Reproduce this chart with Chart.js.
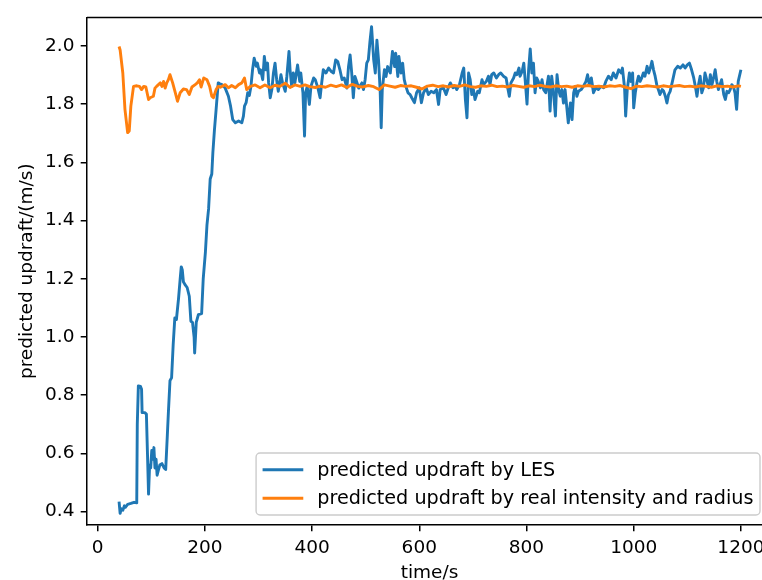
<!DOCTYPE html>
<html>
<head>
<meta charset="utf-8">
<script src="https://cdn.jsdelivr.net/npm/chart.js@4.4.1/dist/chart.umd.min.js"></script>
<style>
  html, body { margin: 0; padding: 0; background: #fff; overflow: hidden; }
  #frame { width: 762px; height: 580px; overflow: hidden; position: relative; }
  #plot { position: absolute; left: 0; top: 0; }
</style>
</head>
<body>
<div id="frame"><canvas id="plot" width="780" height="600"></canvas></div>
<script>
// updraft predicted from the LES run (time in s, value in m/s)
const lesTime = [
  40, 42, 44, 47, 50, 52, 56, 62, 68, 73, 74, 76, 80, 82, 83, 88, 91, 93, 95, 97,
  99, 101, 103, 105, 107, 109, 111, 113, 116, 120, 124, 127, 130, 132, 135, 138, 141, 144, 147, 151,
  154, 156, 158, 160, 163, 167, 171, 174, 177, 180, 181, 184, 188, 194, 197, 201, 204, 207, 210, 213,
  215, 218, 221, 225, 228, 232, 238, 244, 248, 252, 257, 263, 269, 272, 274, 277, 280, 283, 286, 289,
  292, 296, 298, 302, 304, 308, 311, 314, 317, 319, 322, 325, 328, 331, 334, 337, 342, 345, 350, 353,
  357, 359, 362, 365, 368, 373, 377, 379, 383, 386, 388, 391, 395, 398, 403, 406, 411, 415, 418, 421,
  426, 431, 436, 440, 444, 448, 452, 456, 460, 465, 468, 471, 474, 477, 480, 484, 487, 493, 496, 499,
  502, 505, 508, 511, 515, 518, 521, 524, 527, 529, 531, 535, 538, 541, 546, 550, 554, 556, 560, 562,
  566, 569, 572, 575, 579, 583, 586, 591, 595, 600, 604, 608, 613, 617, 622, 627, 632, 636, 639, 645,
  650, 655, 658, 663, 667, 670, 675, 680, 683, 686, 689, 692, 695, 698, 701, 704, 709, 712, 717, 720,
  725, 729, 732, 735, 739, 744, 748, 752, 757, 762, 765, 768, 771, 776, 779, 782, 786, 788, 792, 795,
  798, 801, 804, 807, 810, 813, 816, 819, 822, 826, 829, 832, 836, 841, 844, 847, 850, 854, 857, 860,
  863, 866, 869, 872, 875, 878, 882, 885, 888, 891, 894, 897, 902, 906, 911, 914, 917, 921, 925, 929,
  934, 939, 944, 948, 953, 958, 962, 967, 972, 977, 979, 983, 985, 988, 992, 995, 998, 1000, 1003, 1006,
  1009, 1012, 1015, 1018, 1021, 1025, 1028, 1031, 1034, 1037, 1040, 1043, 1046, 1049, 1053, 1056, 1059, 1062, 1065, 1068,
  1073, 1077, 1082, 1087, 1092, 1096, 1100, 1104, 1108, 1112, 1115, 1118, 1121, 1124, 1127, 1130, 1133, 1137, 1140, 1143,
  1146, 1149, 1152, 1155, 1158, 1161, 1164, 1168, 1171, 1174, 1177, 1180, 1183, 1186, 1189, 1192, 1195, 1200
];
const lesUpdraft = [
  0.434, 0.394, 0.410, 0.405, 0.420, 0.415, 0.425, 0.428, 0.432, 0.430, 0.700, 0.832, 0.830, 0.820, 0.740, 0.740, 0.735, 0.600, 0.460, 0.560,
  0.550, 0.610, 0.580, 0.620, 0.550, 0.580, 0.525, 0.540, 0.560, 0.565, 0.550, 0.545, 0.660, 0.740, 0.850, 0.860, 0.975, 1.065, 1.060, 1.133,
  1.200, 1.241, 1.230, 1.190, 1.180, 1.170, 1.140, 1.054, 1.050, 1.000, 0.945, 1.050, 1.077, 1.080, 1.200, 1.290, 1.385, 1.440, 1.543, 1.560,
  1.634, 1.713, 1.780, 1.873, 1.870, 1.867, 1.855, 1.827, 1.793, 1.747, 1.736, 1.742, 1.736, 1.759, 1.793, 1.805, 1.839, 1.830, 1.861, 1.918,
  1.958, 1.930, 1.941, 1.907, 1.918, 1.884, 1.964, 1.918, 1.941, 1.873, 1.822, 1.850, 1.907, 1.941, 1.884, 1.844, 1.901, 1.873, 1.844, 1.895,
  1.981, 1.918, 1.861, 1.907, 1.873, 1.935, 1.878, 1.907, 1.839, 1.690, 1.839, 1.861, 1.799, 1.861, 1.890, 1.884, 1.855, 1.822, 1.873, 1.918,
  1.907, 1.924, 1.912, 1.907, 1.952, 1.946, 1.918, 1.884, 1.890, 1.855, 1.929, 1.969, 1.907, 1.822, 1.895, 1.873, 1.855, 1.873, 1.850, 1.884,
  1.941, 1.952, 2.015, 2.066, 1.952, 1.907, 2.020, 1.952, 1.850, 1.719, 1.850, 1.918, 1.895, 1.929, 1.907, 1.981, 1.929, 1.975, 1.895, 1.964,
  1.907, 1.941, 1.884, 1.861, 1.839, 1.833, 1.822, 1.805, 1.839, 1.856, 1.805, 1.839, 1.856, 1.833, 1.844, 1.839, 1.850, 1.799, 1.850, 1.856,
  1.833, 1.861, 1.873, 1.856, 1.861, 1.850, 1.867, 1.907, 1.924, 1.816, 1.753, 1.907, 1.884, 1.833, 1.850, 1.816, 1.844, 1.839, 1.884, 1.867,
  1.878, 1.896, 1.867, 1.901, 1.907, 1.890, 1.901, 1.907, 1.896, 1.890, 1.856, 1.827, 1.873, 1.890, 1.907, 1.901, 1.924, 1.896, 1.913, 1.941,
  1.873, 1.800, 1.918, 1.990, 1.907, 1.941, 1.839, 1.890, 1.878, 1.856, 1.884, 1.850, 1.839, 1.896, 1.776, 1.896, 1.850, 1.759, 1.901, 1.850,
  1.827, 1.850, 1.804, 1.850, 1.793, 1.736, 1.804, 1.747, 1.839, 1.861, 1.827, 1.844, 1.850, 1.861, 1.878, 1.901, 1.867, 1.890, 1.839, 1.856,
  1.850, 1.861, 1.856, 1.878, 1.896, 1.884, 1.907, 1.890, 1.918, 1.907, 1.924, 1.856, 1.759, 1.850, 1.907, 1.878, 1.907, 1.787, 1.839, 1.873,
  1.896, 1.878, 1.890, 1.907, 1.896, 1.930, 1.907, 1.924, 1.947, 1.918, 1.896, 1.867, 1.850, 1.833, 1.850, 1.844, 1.827, 1.804, 1.833, 1.844,
  1.884, 1.918, 1.930, 1.924, 1.935, 1.924, 1.935, 1.941, 1.918, 1.890, 1.861, 1.827, 1.867, 1.896, 1.839, 1.856, 1.907, 1.878, 1.856, 1.901,
  1.867, 1.890, 1.918, 1.878, 1.850, 1.867, 1.884, 1.833, 1.816, 1.844, 1.839, 1.850, 1.867, 1.861, 1.839, 1.782, 1.878, 1.918
];

// updraft predicted from the real intensity and radius
const realTime = [
  40, 42, 47, 51, 56, 59, 62, 67, 73, 78, 82, 86, 90, 95, 98, 104, 107, 110, 117, 120,
  123, 126, 129, 132, 135, 140, 145, 149, 154, 160, 166, 171, 176, 182, 186, 190, 193, 198, 204, 209,
  213, 216, 221, 225, 229, 238, 244, 250, 257, 263, 269, 274, 278, 285, 294, 303, 312, 322, 331, 340,
  350, 359, 368, 378, 387, 396, 406, 415, 425, 435, 445, 455, 465, 475, 485, 495, 505, 515, 525, 535,
  545, 555, 565, 575, 585, 595, 605, 615, 625, 635, 645, 655, 665, 675, 685, 695, 705, 715, 725, 735,
  745, 755, 765, 775, 785, 795, 805, 815, 825, 835, 845, 855, 865, 875, 885, 895, 905, 915, 925, 935,
  945, 955, 965, 975, 985, 995, 1005, 1015, 1025, 1035, 1045, 1055, 1065, 1075, 1085, 1095, 1105, 1115, 1125, 1135,
  1145, 1155, 1165, 1175, 1185, 1195, 1200
];
const realUpdraft = [
  1.998, 1.986, 1.907, 1.782, 1.702, 1.708, 1.793, 1.861, 1.863, 1.861, 1.850, 1.861, 1.859, 1.816, 1.822, 1.827, 1.855, 1.861, 1.873, 1.861,
  1.878, 1.855, 1.873, 1.884, 1.901, 1.873, 1.839, 1.810, 1.839, 1.852, 1.850, 1.833, 1.859, 1.867, 1.873, 1.884, 1.859, 1.890, 1.884, 1.861,
  1.827, 1.822, 1.850, 1.861, 1.858, 1.867, 1.856, 1.864, 1.856, 1.867, 1.873, 1.890, 1.850, 1.861, 1.866, 1.856, 1.866, 1.856, 1.865, 1.861,
  1.872, 1.857, 1.866, 1.861, 1.866, 1.860, 1.857, 1.862, 1.858, 1.865, 1.860, 1.866, 1.857, 1.868, 1.861, 1.859, 1.864, 1.860, 1.850, 1.866,
  1.862, 1.858, 1.864, 1.861, 1.863, 1.858, 1.852, 1.862, 1.865, 1.860, 1.863, 1.859, 1.864, 1.861, 1.866, 1.860, 1.858, 1.863, 1.861, 1.865,
  1.860, 1.862, 1.859, 1.864, 1.861, 1.858, 1.863, 1.860, 1.865, 1.861, 1.859, 1.863, 1.860, 1.862, 1.858, 1.863, 1.861, 1.864, 1.860, 1.862,
  1.859, 1.863, 1.861, 1.864, 1.858, 1.853, 1.862, 1.860, 1.863, 1.861, 1.859, 1.863, 1.860, 1.862, 1.864, 1.860, 1.862, 1.859, 1.863, 1.861,
  1.858, 1.863, 1.860, 1.862, 1.859, 1.863, 1.861
];

const seriesLabels = ['predicted updraft by LES', 'predicted updraft by real intensity and radius'];
const seriesColors = ['#1f77b4', '#ff7f0e'];
const xTickStep = 200;
const yTickStep = 0.2;

const FONT = '"DejaVu Sans", sans-serif';
const FS = 18.5;
const LEGEND_FS = 19.2;

// top/right spines (Chart.js only draws the axis borders)
const spines = {
  id: 'spines',
  afterDraw(chart) {
    const { ctx, chartArea: a } = chart;
    ctx.save();
    ctx.strokeStyle = '#000';
    ctx.lineWidth = 1.5;
    ctx.beginPath();
    ctx.moveTo(a.left, a.top);
    ctx.lineTo(a.right, a.top);
    ctx.lineTo(a.right, a.bottom);
    ctx.stroke();
    ctx.restore();
  }
};

// boxed legend in the lower right corner of the plot area
const cornerLegend = {
  id: 'cornerLegend',
  afterDraw(chart) {
    const { ctx, chartArea: a } = chart;
    const sets = chart.data.datasets;
    ctx.save();
    ctx.font = `${LEGEND_FS}px ${FONT}`;
    const textW = Math.max(...sets.map(d => ctx.measureText(d.label).width));
    const pad = 6.5, handleLen = 40.7, gap = 14, rowStep = 28.4;
    const w = pad * 2 + handleLen + gap + textW;
    const h = 62;
    const right = a.right - 12, bottom = a.bottom - 10;
    const left = right - w, top = bottom - h;

    ctx.beginPath();
    ctx.roundRect(left, top, w, h, 4);
    ctx.fillStyle = 'rgba(255,255,255,0.8)';
    ctx.fill();
    ctx.strokeStyle = '#cccccc';
    ctx.lineWidth = 1.4;
    ctx.stroke();

    sets.forEach((d, i) => {
      const y = top + h / 2 - rowStep / 2 + i * rowStep;
      ctx.beginPath();
      ctx.moveTo(left + pad, y);
      ctx.lineTo(left + pad + handleLen, y);
      ctx.strokeStyle = d.borderColor;
      ctx.lineWidth = 2.9;
      ctx.stroke();
      ctx.fillStyle = '#000';
      ctx.textBaseline = 'middle';
      ctx.textAlign = 'left';
      ctx.fillText(d.label, left + pad + handleLen + gap, y + 1);
    });
    ctx.restore();
  }
};

const toPoints = (xs, ys) => xs.map((x, i) => ({ x, y: ys[i] }));

new Chart(document.getElementById('plot'), {
  type: 'line',
  data: {
    datasets: [
      {
        label: seriesLabels[0],
        data: toPoints(lesTime, lesUpdraft),
        borderColor: seriesColors[0],
        borderWidth: 2.9,
        pointRadius: 0,
        tension: 0,
        borderJoinStyle: 'round',
        order: 1
      },
      {
        label: seriesLabels[1],
        data: toPoints(realTime, realUpdraft),
        borderColor: seriesColors[1],
        borderWidth: 2.9,
        pointRadius: 0,
        tension: 0,
        borderJoinStyle: 'round',
        order: 0
      }
    ]
  },
  options: {
    responsive: false,
    animation: false,
    devicePixelRatio: 1,
    layout: { padding: { top: 14, right: 8, left: 0, bottom: 0 } },
    plugins: {
      legend: { display: false },
      tooltip: { enabled: false }
    },
    scales: {
      x: {
        type: 'linear',
        min: -19.8,
        max: 1258,
        afterFit: s => { s.height = 75; },
        grid: { drawOnChartArea: false, color: '#000', lineWidth: 1.5, tickLength: 6.3 },
        border: { display: true, color: '#000', width: 1.5 },
        ticks: {
          stepSize: xTickStep,
          includeBounds: false,
          padding: 6,
          color: '#000',
          font: { family: FONT, size: FS },
          maxRotation: 0,
          callback: v => String(v)
        },
        title: {
          display: true,
          text: 'time/s',
          color: '#000',
          font: { family: FONT, size: FS },
          padding: { top: 0, bottom: 15.4 }
        }
      },
      y: {
        type: 'linear',
        min: 0.354,
        max: 2.098,
        afterFit: s => { s.width = 87; },
        grid: { drawOnChartArea: false, color: '#000', lineWidth: 1.5, tickLength: 6.3 },
        border: { display: true, color: '#000', width: 1.5 },
        ticks: {
          stepSize: yTickStep,
          includeBounds: false,
          padding: 6.3,
          color: '#000',
          font: { family: FONT, size: FS },
          callback: v => v.toFixed(1)
        },
        title: {
          display: true,
          text: 'predicted updraft/(m/s)',
          color: '#000',
          font: { family: FONT, size: FS },
          padding: { top: 16.4, bottom: 0 }
        }
      }
    }
  },
  plugins: [spines, cornerLegend]
});
</script>
</body>
</html>
